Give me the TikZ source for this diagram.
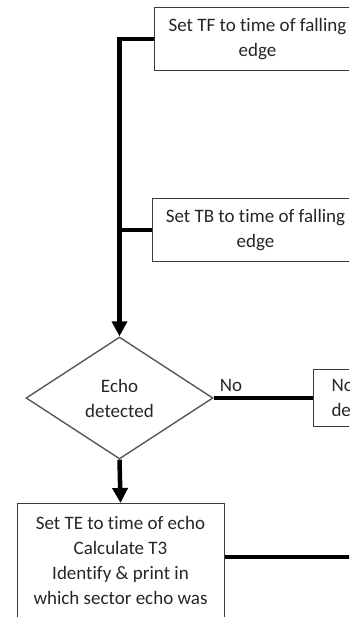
\documentclass[tikz,border=0pt]{standalone}
\usepackage{fontspec}
\setmainfont{Carlito}[Ligatures=NoCommon]
\usetikzlibrary{arrows.meta,shapes.geometric}
\definecolor{txt}{HTML}{262626}
\definecolor{edge}{HTML}{3A3A3A}
\tikzset{
  lbl/.style={font=\fontsize{19}{25}\selectfont, text=txt},
  box/.style={lbl, draw=edge, line width=1pt, rectangle, inner sep=0pt, align=center},
  decision/.style={lbl, draw=edge!85, line width=1.4pt, diamond, inner sep=0pt, align=center,
    minimum width=187pt, minimum height=122pt},
  flow/.style={line width=4.5pt, black},
  flowarrow/.style={flow, -{Triangle[width=15pt,length=15pt]}},
}
\begin{document}
\begin{tikzpicture}[x=1pt,y=-1pt]
\useasboundingbox (0,0) rectangle (349,617);
\clip (0,0) rectangle (349,617);
\fill[white] (0,0) rectangle (349,617);

\node[box, anchor=north west, minimum width=206pt, minimum height=63pt] (tf) at (154,7)
  {Set TF to time of falling\\edge};
\node[box, anchor=north west, minimum width=206pt, minimum height=63pt] (tb) at (152,198)
  {Set TB to time of falling\\edge};
\node[decision] (echo) at (119.5,398) {Echo\\detected};
\node[box, anchor=west, align=left, inner xsep=18pt, minimum height=57pt] (noecho) at (313,398)
  {No\\de};
\node[lbl, anchor=center] (nolabel) at (231,385) {No};
\node[box, anchor=north, minimum width=207pt] (te) at (120.5,503)
  {\rule{0pt}{25.5pt}Set TE to time of echo\\Calculate T3\\Identify \& print in\\which sector echo was\rule[-40pt]{0pt}{40pt}};
\coordinate (teout) at (352,557);

\draw[flowarrow] (tf.west) -| (echo.north);
\draw[flow] (tb.west) -- (tb.west -| echo.north);
\draw[flow] (echo.east) -- (noecho.west);
\draw[flowarrow] (echo.south) -- (te.north);
\draw[flow] (te.east |- teout) -- (teout);
\end{tikzpicture}
\end{document}
